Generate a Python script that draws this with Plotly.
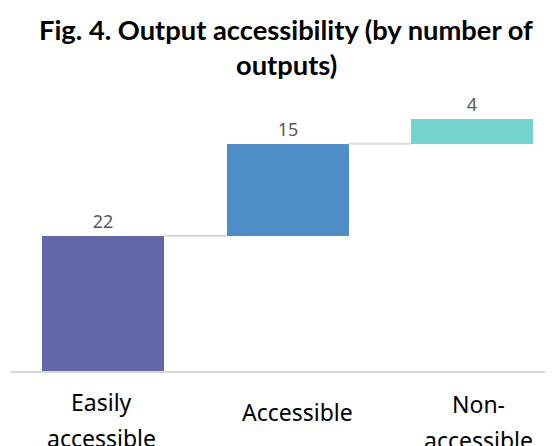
import plotly.graph_objects as go
import numpy as np

categories = ["Easily accessible", "Accessible", "Non-accessible"]
label_lines = [["Easily", "accessible"], ["Accessible"], ["Non-", "accessible"]]
values = [22, 15, 4]
colors = ["#6467a8", "#4f8ec6", "#72d3cf"]
title_lines = ["Fig. 4. Output accessibility (by number of", "outputs)"]

x = np.arange(len(values))
bases = np.concatenate([[0], np.cumsum(values)[:-1]])
tops = bases + np.array(values)
bw = 0.662

fig = go.Figure()
# connectors
for i in range(len(values) - 1):
    fig.add_trace(go.Scatter(
        x=[x[i] + bw / 2, x[i + 1] - bw / 2], y=[tops[i], tops[i]],
        mode="lines", line=dict(color="#d9d9d9", width=2),
        hoverinfo="skip", showlegend=False))

fig.add_trace(go.Bar(
    x=x, y=values, base=bases, width=bw,
    marker=dict(color=colors, line=dict(width=0)),
    text=[str(v) for v in values], textposition="outside",
    textfont=dict(size=18, color="#595959", family="Noto Sans"),
    cliponaxis=False, showlegend=False))

# category labels
xshifts = [-2, 10, 7]
for i, lines in enumerate(label_lines):
    offs = [0] if len(lines) == 1 else [0, -36]
    base_y = -41 if len(lines) == 1 else -31
    if i == 2:
        base_y -= 2
    for j, ln in enumerate(lines):
        fig.add_annotation(x=x[i], y=0, xref="x", yref="y", text=ln,
                           showarrow=False, yshift=base_y + offs[j],
                           xshift=xshifts[i],
                           font=dict(size=23, color="#000000", family="Noto Sans"))

OFF = 8  # page body margin
plot_top, plot_bottom = 100 - OFF, 371 - OFF
H = 446
ph = plot_bottom - plot_top

for j, t in enumerate(title_lines):
    px_y = 29 + 35 * j - OFF
    fig.add_annotation(x=0.5, xref="paper", y=(plot_bottom - px_y) / ph, yref="paper",
                       text=f"<b>{t}</b>", showarrow=False, yanchor="middle",
                       font=dict(size=27.3, color="#000000", family="Lato"))

fig.update_layout(
    width=553, height=446,
    margin=dict(l=3, r=0, t=plot_top, b=H - plot_bottom),
    paper_bgcolor="white", plot_bgcolor="white",
    bargap=0,
    xaxis=dict(range=[-0.5, 2.483], showticklabels=False, showgrid=False,
               zeroline=False, showline=True, linecolor="#d9d9d9", linewidth=2,
               ticks=""),
    yaxis=dict(range=[0, 44.1], showticklabels=False, showgrid=False,
               zeroline=False, showline=False, ticks=""),
)

fig.write_html("out.html")
